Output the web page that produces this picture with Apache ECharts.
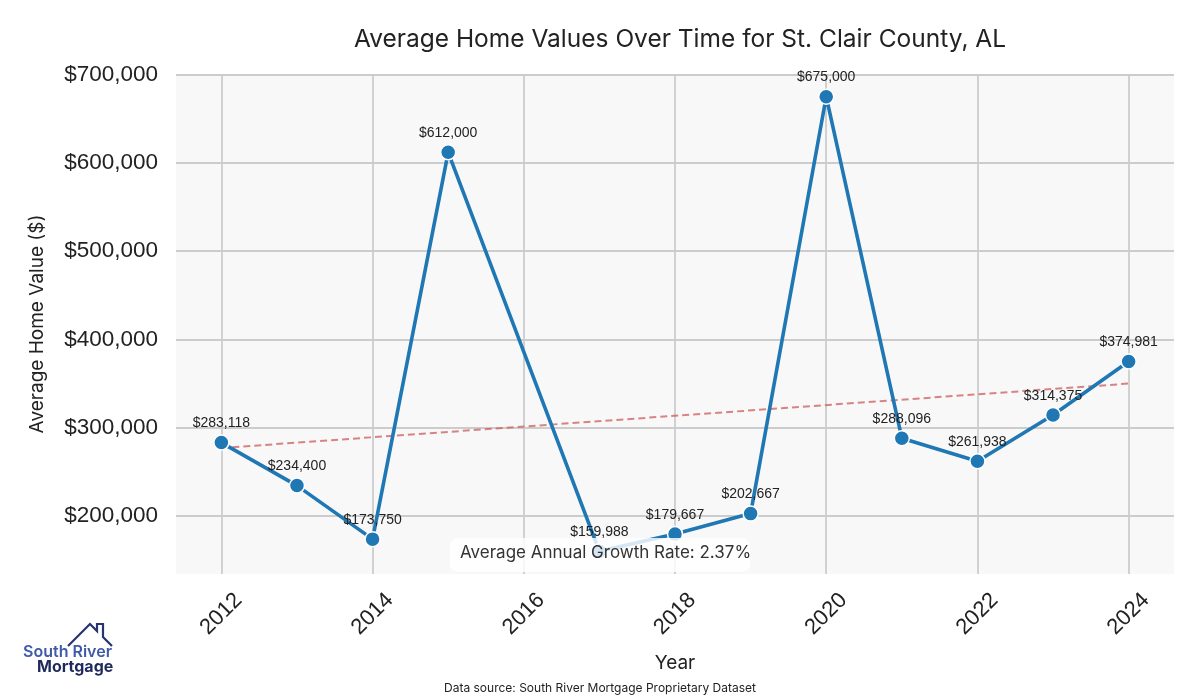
<!DOCTYPE html>
<html>
<head>
<meta charset="utf-8">
<script src="https://cdn.jsdelivr.net/npm/echarts@6/dist/echarts.min.js"></script>
<style>html,body{margin:0;padding:0;background:#fff}#c{width:1200px;height:700px}</style>
</head>
<body>
<div id="c"></div>
<script>
const years = [2012, 2013, 2014, 2015, 2017, 2018, 2019, 2020, 2021, 2022, 2023, 2024];
const values = [283118, 234400, 173750, 612000, 159988, 179667, 202667, 675000, 288096, 261938, 314375, 374981];
const trendYears = [2012, 2024];
const trendValues = [277000, 350000];
const titleText = 'Average Home Values Over Time for St. Clair County, AL';
const growthText = 'Average Annual Growth Rate: 2.37%';
const sourceText = 'Data source: South River Mortgage Proprietary Dataset';

const fmtMoney = v => '$' + Math.round(v).toLocaleString('en-US');
const chart = echarts.init(document.getElementById('c'), null, {renderer: 'canvas'});
chart.setOption({
  backgroundColor: '#ffffff',
  animation: false,
  title: {
    text: titleText, left: 675, top: 22, textAlign: 'center',
    textStyle: {fontFamily: 'Inter', fontSize: 24.5, fontWeight: 'normal', color: '#222'}
  },
  grid: {left: 176, right: 26, top: 74, bottom: 126, show: true, backgroundColor: '#f8f8f8', borderWidth: 0},
  xAxis: {
    type: 'value', min: 2011.4, max: 2024.6, minInterval: 2, maxInterval: 2, splitNumber: 7,
    name: 'Year', nameLocation: 'middle', nameGap: 80,
    nameTextStyle: {fontFamily: 'Inter', fontSize: 19, color: '#222'},
    axisLine: {show: false}, axisTick: {show: false},
    axisLabel: {
      rotate: 45, align: 'center', verticalAlign: 'middle',
      fontFamily: 'Liberation Sans', fontSize: 22, color: '#222', margin: 40,
      formatter: v => (Math.abs(v - Math.round(v)) < 1e-6 && Math.round(v) % 2 === 0) ? String(Math.round(v)) : ''
    },
    splitLine: {show: true, showMinLine: false, showMaxLine: false, lineStyle: {color: '#cccccc', width: 1.8}}
  },
  yAxis: {
    type: 'value', min: 134238, max: 700750, minInterval: 100000, maxInterval: 100000, splitNumber: 6,
    name: 'Average Home Value ($)', nameLocation: 'middle', nameGap: 129,
    nameTextStyle: {fontFamily: 'Inter', fontSize: 19, color: '#222'},
    axisLine: {show: false}, axisTick: {show: false},
    axisLabel: {
      fontFamily: 'Liberation Sans', fontSize: 22.5, color: '#222', margin: 18,
      formatter: v => (Math.round(v) % 100000 === 0) ? fmtMoney(v) : ''
    },
    splitLine: {show: true, showMinLine: false, showMaxLine: false, lineStyle: {color: '#cccccc', width: 1.8}}
  },
  series: [
    {
      type: 'line', name: 'Trend',
      data: trendYears.map((y, i) => [y, trendValues[i]]),
      symbol: 'none', z: 3,
      lineStyle: {color: 'rgba(205,92,92,0.75)', width: 2, type: [7, 4]}
    },
    {
      type: 'line', name: 'Average Home Value',
      data: years.map((y, i) => [y, values[i]]),
      symbol: 'circle', symbolSize: 15, z: 4,
      lineStyle: {color: '#1f77b4', width: 3.6},
      itemStyle: {color: '#1f77b4', borderColor: '#ffffff', borderWidth: 1.5},
      label: {
        show: true, position: 'top', distance: 4,
        fontFamily: 'Liberation Sans', fontSize: 14, color: '#222',
        formatter: p => fmtMoney(p.value[1])
      }
    }
  ],
  graphic: [
    {
      type: 'rect', z: 100,
      shape: {x: 450, y: 538, width: 300, height: 34, r: 8},
      style: {fill: 'rgba(255,255,255,0.82)'}
    },
    {
      type: 'text', z: 101, left: 600 - 140, top: 544,
      style: {text: growthText, x: 0, y: 0, fontFamily: 'Inter', fontSize: 17, fill: '#333'}
    },
    {
      type: 'text', z: 101, left: 'center', top: 682,
      style: {text: sourceText, fontFamily: 'Inter', fontSize: 12, fill: '#222'}
    },
    {
      type: 'polyline', z: 101,
      shape: {points: [[68, 646], [90, 624], [97, 631], [97, 624], [103, 624], [103, 637], [112, 646]]},
      style: {stroke: '#283470', lineWidth: 2.2, fill: null}
    },
    {
      type: 'text', z: 101, left: 23, top: 644,
      style: {text: 'South River', fontFamily: 'Inter', fontSize: 16, fontWeight: 600, fill: '#3f5aa8'}
    },
    {
      type: 'text', z: 101, left: 37, top: 659,
      style: {text: 'Mortgage', fontFamily: 'Inter', fontSize: 16, fontWeight: 'bold', fill: '#1f2a5c'}
    }
  ]
});
</script>
</body>
</html>
